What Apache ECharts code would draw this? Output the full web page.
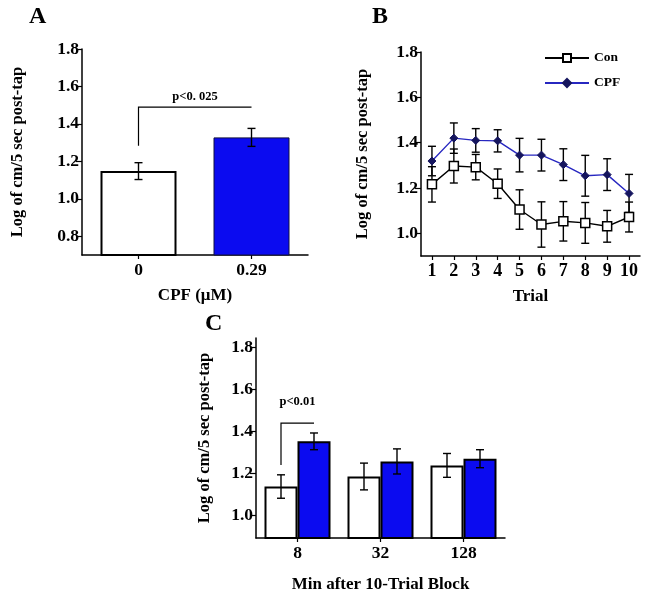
<!DOCTYPE html>
<html>
<head>
<meta charset="utf-8">
<script src="https://cdn.jsdelivr.net/npm/echarts@6/dist/echarts.min.js"></script>
<style>html,body{margin:0;padding:0;background:#fff}#c{width:648px;height:598px}</style>
</head>
<body>
<div id="c"></div>
<script>
// ---------- DATA ----------
const aCats = ['0', '0.29'];
const aMeans = [1.148, 1.328];
const aErr = [0.045, 0.048];

const trials = ['1','2','3','4','5','6','7','8','9','10'];
const conMeans = [1.216, 1.297, 1.292, 1.219, 1.105, 1.039, 1.053, 1.046, 1.031, 1.072];
const conErr   = [0.078, 0.075, 0.056, 0.065, 0.087, 0.100, 0.087, 0.090, 0.070, 0.066];
const cpfMeans = [1.319, 1.420, 1.410, 1.408, 1.345, 1.345, 1.303, 1.254, 1.259, 1.176];
const cpfErr   = [0.065, 0.067, 0.052, 0.049, 0.074, 0.070, 0.070, 0.090, 0.070, 0.084];

const cCats = ['8', '32', '128'];
const cConMeans = [1.136, 1.184, 1.237];
const cConErr   = [0.056, 0.064, 0.057];
const cCpfMeans = [1.352, 1.256, 1.269];
const cCpfErr   = [0.040, 0.060, 0.043];

const yTicksA = [0.8, 1.0, 1.2, 1.4, 1.6, 1.8];
const yTicksB = [1.0, 1.2, 1.4, 1.6, 1.8];
const yTicksC = [1.0, 1.2, 1.4, 1.6, 1.8];

const sigA = {from: 0, to: 1, low: 1.283, top: 1.49, textY: 1.545, label: 'p<0. 025'};
const sigC = {from: 0, to: 0, low: 1.239, top: 1.439, textY: 1.542, label: 'p<0.01'};

// ---------- STYLE ----------
const FONT = '"Liberation Serif", "Times New Roman", serif';
const BLUE = '#0b0bf0';

function yAxis(gridIndex, min, max, ticks, name, gap) {
  return {
    type: 'value', gridIndex, min, max,
    name, nameLocation: 'middle', nameGap: gap, nameRotate: 90,
    nameTextStyle: {fontFamily: FONT, fontWeight: 'bold', fontSize: 16.5, color: '#000'},
    axisLine: {show: true, lineStyle: {color: '#000', width: 1.5}},
    axisTick: {show: true, length: 6, customValues: ticks, lineStyle: {color: '#000', width: 1.2}},
    axisLabel: {customValues: ticks, margin: 3, fontFamily: FONT, fontWeight: 'bold', fontSize: 17.5, color: '#000',
      formatter: v => v.toFixed(1)},
    splitLine: {show: false}
  };
}
function xAxis(gridIndex, data, name, gap, labelSize) {
  return {
    type: 'category', gridIndex, data,
    name, nameLocation: 'middle', nameGap: gap,
    nameTextStyle: {fontFamily: FONT, fontWeight: 'bold', fontSize: 17, color: '#000'},
    axisLine: {show: true, lineStyle: {color: '#000', width: 1.5}},
    axisTick: {show: true, alignWithLabel: true, interval: 0, length: 4, lineStyle: {color: '#000', width: 1.2}},
    axisLabel: {interval: 0, hideOverlap: false, margin: 6, fontFamily: FONT, fontWeight: 'bold', fontSize: labelSize, color: '#000'},
    splitLine: {show: false}
  };
}

function errorSeries(name, xi, yi, means, errs, offset, z) {
  return {
    type: 'custom', name, xAxisIndex: xi, yAxisIndex: yi, z: z || 1, silent: true,
    data: means.map((m, i) => [i, m, errs[i]]),
    encode: {x: 0, y: 1},
    renderItem: function (params, api) {
      const i = api.value(0), m = api.value(1), e = api.value(2);
      const hi = api.coord([i, m + e]);
      const lo = api.coord([i, m - e]);
      const x = hi[0] + offset, w = 4;
      const st = {stroke: '#000', lineWidth: 1.4, fill: null};
      return {type: 'group', children: [
        {type: 'line', shape: {x1: x, y1: hi[1], x2: x, y2: lo[1]}, style: st},
        {type: 'line', shape: {x1: x - w, y1: hi[1], x2: x + w, y2: hi[1]}, style: st},
        {type: 'line', shape: {x1: x - w, y1: lo[1], x2: x + w, y2: lo[1]}, style: st}
      ]};
    }
  };
}

function sigSeries(xi, yi, s, offFrom, offTo) {
  return {
    type: 'custom', xAxisIndex: xi, yAxisIndex: yi, z: 5, silent: true,
    data: [[s.from, s.low, s.top, s.to, s.textY]],
    encode: {x: 0, y: 1},
    renderItem: function (params, api) {
      const a = api.coord([api.value(0), api.value(1)]);
      const b = api.coord([api.value(0), api.value(2)]);
      const c = api.coord([api.value(3), api.value(2)]);
      const t = api.coord([api.value(3), api.value(4)]);
      const x0 = a[0] + offFrom, x1 = c[0] + offTo;
      return {type: 'group', children: [
        {type: 'polyline', shape: {points: [[x0, a[1]], [x0, b[1]], [x1, c[1]]]},
          style: {stroke: '#000', lineWidth: 1.2, fill: null}},
        {type: 'text', style: {x: (x0 + x1) / 2, y: t[1], text: s.label, align: 'center', verticalAlign: 'middle',
          font: 'bold 12.5px ' + FONT, fill: '#000'}}
      ]};
    }
  };
}

const chart = echarts.init(document.getElementById('c'), null, {renderer: 'canvas'});
const option = {
  backgroundColor: '#fff',
  animation: false,
  grid: [
    {left: 82, top: 49, width: 226, height: 206},
    {left: 421, top: 52, width: 219, height: 204},
    {left: 256, top: 338, width: 249, height: 200}
  ],
  xAxis: [
    xAxis(0, aCats, 'CPF (μM)', 32, 17.5),
    xAxis(1, trials, 'Trial', 32, 18),
    xAxis(2, cCats, 'Min after 10-Trial Block', 38, 17.5)
  ],
  yAxis: [
    yAxis(0, 0.7, 1.8, yTicksA, 'Log of cm/5 sec post-tap', 56),
    yAxis(1, 0.9, 1.8, yTicksB, 'Log of cm/5 sec post-tap', 50),
    yAxis(2, 0.89, 1.846, yTicksC, 'Log of cm/5 sec post-tap', 43)
  ],
  legend: {
    data: ['Con', 'CPF'], orient: 'vertical', left: 539, top: 46,
    itemWidth: 44, itemHeight: 10, itemGap: 11,
    textStyle: {fontFamily: FONT, fontWeight: 'bold', fontSize: 13.5, color: '#000'}
  },
  graphic: [
    {type: 'text', left: 29, top: 5, style: {text: 'A', font: 'bold 24px ' + FONT, fill: '#000'}},
    {type: 'text', left: 372, top: 5, style: {text: 'B', font: 'bold 24px ' + FONT, fill: '#000'}},
    {type: 'text', left: 205, top: 312, style: {text: 'C', font: 'bold 24px ' + FONT, fill: '#000'}}
  ],
  series: [
    // Panel A
    {type: 'bar', name: 'A', xAxisIndex: 0, yAxisIndex: 0, barWidth: 76,
      data: aMeans.map((v, i) => ({value: v, itemStyle: {color: i === 0 ? '#fff' : BLUE,
        borderColor: i === 0 ? '#000' : '#101040', borderWidth: i === 0 ? 2 : 1}}))},
    errorSeries('errA', 0, 0, aMeans, aErr, 0, 3),
    sigSeries(0, 0, sigA, 0, 0),
    // Panel B
    errorSeries('errCon', 1, 1, conMeans, conErr, 0, 1),
    errorSeries('errCpf', 1, 1, cpfMeans, cpfErr, 0, 1),
    {type: 'line', name: 'Con', xAxisIndex: 1, yAxisIndex: 1, z: 3, data: conMeans,
      symbol: 'rect', symbolSize: 9,
      lineStyle: {color: '#000', width: 1.4},
      itemStyle: {color: '#fff', borderColor: '#000', borderWidth: 1.5}},
    {type: 'line', name: 'CPF', xAxisIndex: 1, yAxisIndex: 1, z: 3, data: cpfMeans,
      symbol: 'diamond', symbolSize: 8,
      lineStyle: {color: '#2727c0', width: 1.4},
      itemStyle: {color: '#15155e', borderColor: '#15155e', borderWidth: 1}},
    // Panel C
    {type: 'bar', name: 'C-Con', xAxisIndex: 2, yAxisIndex: 2, barWidth: 33, barGap: '0%',
      data: cConMeans, itemStyle: {color: '#fff', borderColor: '#000', borderWidth: 2}},
    {type: 'bar', name: 'C-CPF', xAxisIndex: 2, yAxisIndex: 2, barWidth: 33, barGap: '0%',
      data: cCpfMeans, itemStyle: {color: BLUE, borderColor: '#000', borderWidth: 2}},
    errorSeries('errCCon', 2, 2, cConMeans, cConErr, -16.5, 3),
    errorSeries('errCCpf', 2, 2, cCpfMeans, cCpfErr, 16.5, 3),
    sigSeries(2, 2, sigC, -16.5, 16.5)
  ]
};
chart.setOption(option);
</script>
</body>
</html>
